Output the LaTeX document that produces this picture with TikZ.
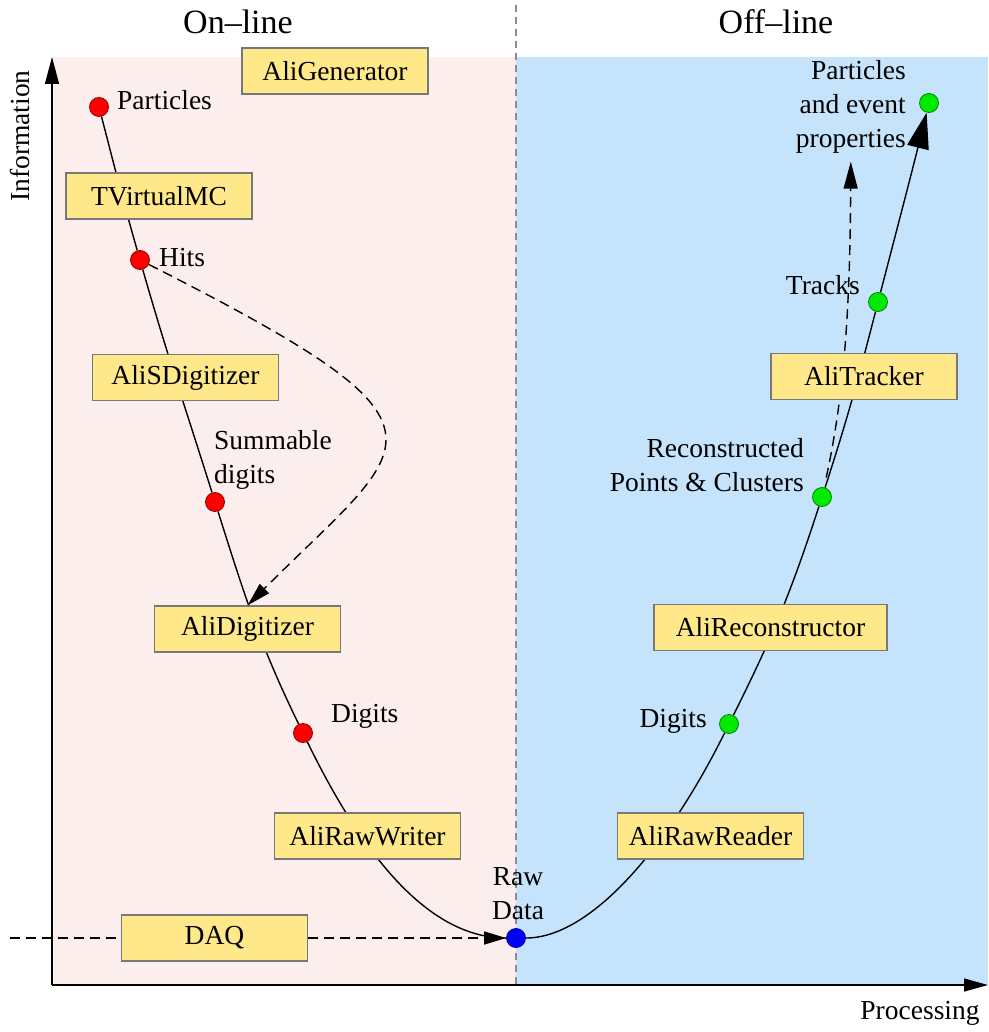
\documentclass[tikz,border=0pt]{standalone}
\usepackage{fontspec}
\setmainfont{Liberation Serif}
\usetikzlibrary{arrows.meta}
\pgfdeclarelayer{bg}
\pgfsetlayers{bg,main}
\definecolor{pinkbg}{RGB}{253,238,238}
\definecolor{bluebg}{RGB}{197,228,252}
\definecolor{boxfill}{RGB}{255,232,138}
\definecolor{boxline}{RGB}{120,120,120}
\definecolor{dotred}{RGB}{255,0,0}
\definecolor{dotgreen}{RGB}{0,235,0}
\definecolor{dotblue}{RGB}{0,0,255}
\definecolor{dividergray}{RGB}{140,140,140}
\begin{document}
\begin{tikzpicture}[x=1pt,y=1pt,
  every node/.style={font=\fontsize{27.5}{34}\selectfont},
  box/.style={draw=boxline, fill=boxfill, line width=1.1pt, minimum width=186pt, minimum height=46pt, inner xsep=2pt, inner ysep=0pt},
  dot/.style={circle, draw=#1!55!black, fill=#1, minimum size=19pt, inner sep=0pt, line width=0.8pt},
  lbl/.style={inner sep=0pt},
  head/.style={font=\fontsize{34}{40}\selectfont},
  curve/.style={line width=1.4pt},
  dsh/.style={line width=1.4pt, dash pattern=on 10pt off 6pt}
]
\useasboundingbox (0,0) rectangle (988,-1032);

% headers and axis labels
\node[head] (online) at (238,-22) {On--line};
\node[head] (offline) at (776,-22) {Off--line};
\node[rotate=90] (info) at (20,-136) {Information};
\node (proc) at (920,-1013) {Processing};

% boxes
\node[box] (gen) at (335,-71) {AliGenerator};
\node[box] (vmc) at (159,-196) {TVirtualMC};
\node[box] (sdig) at (185.5,-377.5) {AliSDigitizer};
\node[box] (digi) at (247.5,-629) {AliDigitizer};
\node[box] (rw) at (367.5,-836) {AliRawWriter};
\node[box] (daq) at (214.5,-938) {DAQ};
\node[box] (rr) at (710.5,-836) {AliRawReader};
\node[box, minimum width=233pt] (rec) at (770.5,-627.5) {AliReconstructor};
\node[box] (trk) at (864,-376.5) {AliTracker};

% points
\node[dot=dotred] (p1) at (99,-107) {};
\node[dot=dotred] (p2) at (140,-260) {};
\node[dot=dotred] (p3) at (215,-502) {};
\node[dot=dotred] (p4) at (303,-733) {};
\node[dot=dotblue] (raw) at (516,-938) {};
\node[dot=dotgreen] (q1) at (729,-724) {};
\node[dot=dotgreen] (q2) at (822,-497) {};
\node[dot=dotgreen] (q3) at (878,-302) {};
\node[dot=dotgreen] (q4) at (929,-103) {};

% labels
\node[lbl, anchor=west] (l1) at (117,-100) {Particles};
\node[lbl, anchor=west] (l2) at (159,-258) {Hits};
\node[lbl, anchor=west, align=left] (l3) at (214,-460) {Summable\\digits};
\node[lbl, anchor=west] (l4) at (331,-716) {Digits};
\node[lbl, align=center] (l5) at (518,-894) {Raw\\Data};
\node[lbl, anchor=east] (l6) at (707,-721) {Digits};
\node[lbl, anchor=east, align=right] (l7) at (804,-465) {Reconstructed\\Points \& Clusters};
\node[lbl, anchor=east] (l8) at (860,-285) {Tracks};
\node[lbl, anchor=east, align=right] (l9) at (906,-107) {Particles\\and event\\properties};

\coordinate (origin) at (52,-985);
\coordinate (ytop) at (52,-57);
\coordinate (xend) at (988,-985);
\coordinate (divtop) at (516,-5);
\coordinate (divbot) at (516,-985);
\coordinate (daqstart) at (10,-938);

\begin{pgfonlayer}{bg}
\fill[pinkbg] (52,-57) rectangle (516,-985);
\fill[bluebg] (516,-57) rectangle (988,-985);
\draw[dividergray, line width=1.2pt, dash pattern=on 7pt off 5pt] (divtop) -- (divbot);
\draw[line width=1.4pt, -{Triangle[length=27pt,width=14pt]}] (origin) -- (ytop);
\draw[line width=1.4pt, -{Triangle[length=24pt,width=13pt]}] (origin) -- (xend);

% on-line chain
\draw[curve] (p1) to[out=-75.5,in=106] (p2);
\draw[curve] (p2) to[out=-74,in=107.5] (p3);
\draw[curve] (p3) to[out=-72.5,in=116] (p4);
\draw[curve] (p4) .. controls (360,-850) and (426,-938) .. (raw);

% off-line chain
\draw[curve] (raw) .. controls (590,-938) and (667,-849) .. (q1);
\draw[curve] (q1) to[out=63.5,in=-108] (q2);
\draw[curve] (q2) to[out=72,in=-104.5] (q3);
\draw[curve, -{Triangle[length=36pt,width=22pt]}] (q3) to[out=75.5,in=-104] (q4);

% dashed connectors
\draw[dsh, -{Triangle[length=24pt,width=13pt]}] (p2) .. controls (475,-430) and (415,-438) .. (digi.north);
\draw[dsh] (daqstart) -- (daq);
\draw[dsh, -{Triangle[length=22pt,width=13pt]}] (daq) -- (raw);
\draw[dsh, -{Triangle[length=27pt,width=14pt]}, shorten <=10pt, shorten >=8pt] (q2) .. controls (843,-400) and (850,-320) .. (l9.south);
\end{pgfonlayer}
\end{tikzpicture}
\end{document}
